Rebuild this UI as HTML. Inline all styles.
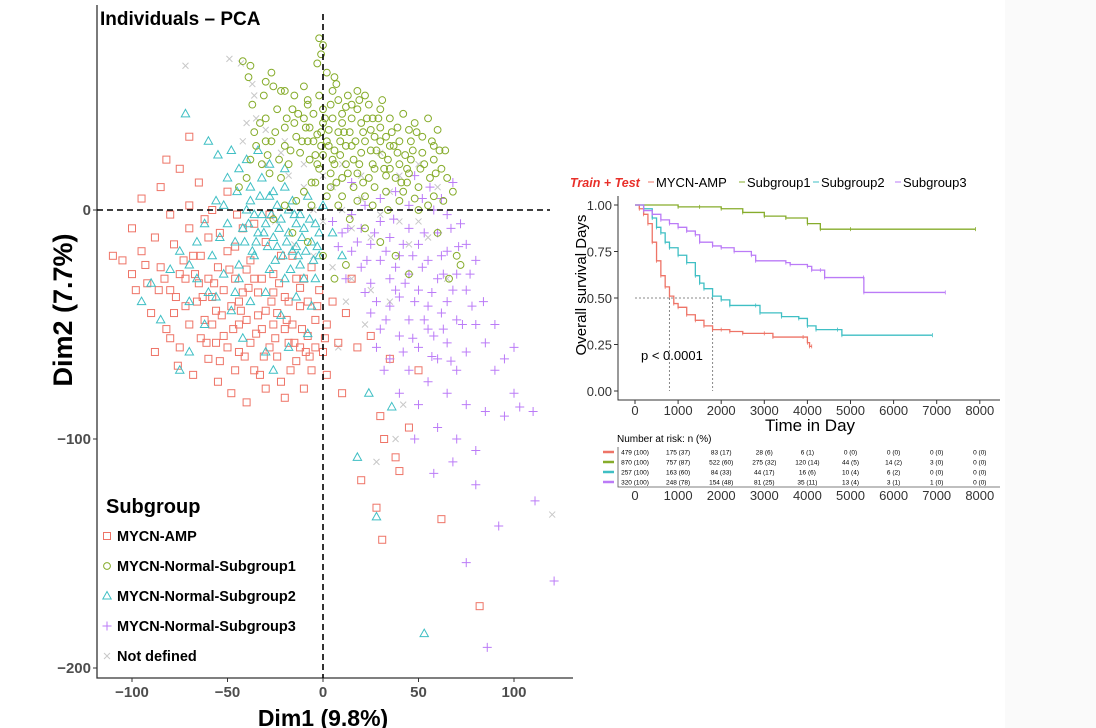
<!DOCTYPE html>
<html><head><meta charset="utf-8"><style>
html,body{margin:0;padding:0;background:#fff;}
body{width:1096px;height:728px;overflow:hidden;position:relative;font-family:"Liberation Sans",sans-serif;}
</style></head><body>
<div style="position:absolute;left:1005px;top:0;width:91px;height:728px;background:#fafafa;"></div>
<svg id="svg" width="1096" height="728" style="position:absolute;left:0;top:0" xmlns="http://www.w3.org/2000/svg"></svg>
<script>
// ---------- PCA data ----------
const pcaXTicks=[-100,-50,0,50,100];
const pcaYTicks=[0,-100,-200];
const groupNames=["MYCN-AMP","MYCN-Normal-Subgroup1","MYCN-Normal-Subgroup2","MYCN-Normal-Subgroup3","Not defined"];
const ptsAmp=[[-105,-22],[-100,-28],[-95,-18],[-92,-32],[-88,-12],[-85,-25],[-80,-35],[-78,-15],[-75,-28],[-72,-42],[-70,-8],[-68,-20],[-65,-32],[-62,-48],[-60,-12],[-58,-38],[-55,-25],[-52,-55],[-50,-18],[-48,-42],[-46,-30],[-44,-62],[-42,-8],[-40,-48],[-38,-22],[-36,-70],[-34,-36],[-32,-52],[-30,-14],[-28,-60],[-26,-28],[-24,-45],[-22,-75],[-20,-38],[-18,-58],[-16,-20],[-14,-66],[-12,-42],[-10,-30],[-8,-55],[-6,-70],[-4,-48],[-2,-35],[0,-62],[2,-50],[5,-40],[8,-58],[12,-45],[15,-30],[-90,-45],[-82,-52],[-75,-60],[-68,-72],[-60,-65],[-55,-75],[-48,-80],[-40,-84],[-30,-78],[-20,-82],[-10,-78],[-95,5],[-85,10],[-75,18],[-65,12],[-58,0],[-50,8],[-45,-2],[-100,-8],[-110,-20],[-80,-2],[-70,2],[-62,-4],[-54,-10],[-46,-16],[-36,-6],[-28,-2],[-64,-56],[-56,-44],[-42,-36],[-34,-46],[-24,-64],[-16,-50],[-8,-40],[2,-72],[10,-80],[18,-60],[25,-55],[30,-90],[32,-100],[38,-108],[45,-95],[20,-118],[28,-130],[31,-144],[40,-114],[62,-135],[82,-173],[50,-70],[35,-65],[-82,22],[-70,32],[-76,-68],[-88,-62],[-50,-60],[-44,-50],[-38,-58],[-32,-30],[-26,-50],[-22,-20],[-18,-40],[-12,-60],[-6,-25],[-4,-60],[-60,-30],[-66,-40],[-72,-30],[-78,-45],[-52,-35],[-40,-26],[-30,-44],[-20,-52],[-14,-30],[-64,-20],[-86,-35],[-56,-58],[-46,-70],
[-98,-35],[-93,-24],[-83,-30],[-77,-38],[-73,-22],[-67,-28],[-63,-38],[-57,-32],[-53,-46],[-49,-26],[-43,-44],[-39,-34],[-35,-54],[-31,-64],[-27,-40],[-23,-32],[-19,-48],[-15,-58],[-11,-52],[-7,-64],[-3,-42],[1,-56],[-61,-58],[-54,-66],[-47,-52],[-41,-64],[-33,-72],[-25,-56],[-17,-70],[-9,-62],[-80,-56],[-70,-50],[-58,-50],[-44,-40],[-36,-30],[-26,-36],[-12,-34]];
const ptsSub1=[[-2,75],[0,72],[-1,68],[-3,64],[2,60],[-42,65],[-38,63],[-39,58],[-30,56],[-27,60],[-22,52],[-26,54],[-20,52],[-31,50],[-15,50],[-8,48],[5,52],[8,48],[12,45],[18,52],[24,46],[30,44],[35,40],[42,42],[48,38],[55,40],[60,35],[58,28],[52,25],[46,22],[40,20],[35,28],[30,30],[25,35],[20,38],[15,40],[10,38],[5,40],[0,44],[-5,42],[-10,40],[-15,38],[-20,36],[-25,34],[-30,30],[-35,28],[-38,22],[-32,20],[-28,16],[-22,14],[-18,20],[-12,25],[-8,30],[-3,33],[2,30],[6,26],[12,28],[16,22],[20,25],[26,20],[32,18],[38,14],[44,12],[50,10],[56,14],[62,18],[68,8],[63,4],[55,2],[48,5],[40,4],[33,8],[27,10],[22,6],[16,10],[10,14],[4,16],[-2,18],[-6,12],[-10,8],[-14,4],[-6,2],[2,6],[8,2],[14,-4],[22,-8],[30,-14],[38,-20],[45,-28],[-20,28],[-14,32],[-4,24],[8,34],[14,34],[22,30],[28,26],[34,22],[40,30],[46,30],[52,32],[58,22],[64,26],[0,38],[-8,46],[4,46],[10,42],[18,44],[26,40],[-24,44],[-16,44],[-30,40],[-36,34],[-40,14],[-44,10],[-16,-10],[-8,-14],[0,-20],[6,-30],[12,-24],[-26,-4],[-20,2],[72,-24],[60,-10],[66,-30],[36,34],[44,18],[30,36],[24,14],[18,16],[12,20],[6,20],[0,24],[-4,12],[70,-20],[3,35],[9,30],[15,28],[21,34],[27,32],[33,15],[39,25],[45,35],[51,18],[-1,28],[-7,36],[13,50],[19,48],[7,55],[31,48],
[1,40],[3,28],[5,22],[7,12],[9,24],[11,34],[13,16],[15,46],[17,30],[19,20],[21,12],[23,40],[25,26],[27,18],[29,40],[31,24],[33,32],[35,18],[37,28],[39,36],[41,12],[43,24],[45,16],[47,26],[49,34],[53,20],[57,30],[59,16],[61,26],[65,14],[-1,34],[-3,20],[-5,30],[-7,22],[-9,36],[-11,30],[-13,42],[-17,26],[-19,40],[-23,22],[-27,30],[-29,24],[-33,38],[-37,46],[4,10],[10,6],[18,4],[26,2],[34,0],[42,8],[50,0],[58,6],[-2,50],[6,58],[22,50],[-10,54]];
const ptsSub2=[[-72,42],[-60,30],[-55,24],[-48,26],[-40,22],[-50,14],[-45,8],[-38,10],[-32,14],[-28,6],[-24,2],[-20,10],[-16,4],[-12,-2],[-8,6],[-4,-6],[0,2],[-36,-2],[-30,-6],[-26,-12],[-22,-4],[-18,-10],[-14,-16],[-10,-8],[-6,-14],[-2,-20],[-42,-8],[-46,-14],[-50,-6],[-54,-12],[-58,-20],[-62,-6],[-66,-14],[-70,-24],[-75,-18],[-80,-26],[-90,-32],[-95,-40],[-85,-48],[-70,-40],[-60,-36],[-52,-28],[-44,-24],[-36,-20],[-28,-26],[-20,-30],[-12,-24],[-4,-30],[-48,-44],[-38,-40],[-30,-36],[-22,-46],[-14,-38],[-6,-42],[-62,-50],[-70,-62],[-75,-70],[-42,-56],[-30,-62],[-18,-60],[-8,-54],[5,-10],[10,-20],[-34,26],[-28,20],[-20,18],[-44,18],[-56,4],[-40,0],[-16,-18],[36,-86],[28,-134],[53,-185],[18,-108],[24,-80],[-26,-70],[-66,-30],[-56,-38],[-46,-36],[-34,-10],[-24,-16],[-10,-30],[-2,-10],[-52,2],[-44,-30],[-38,4],[-32,-2],[-26,8],[-18,0],[-14,-6],
[-39,-6],[-35,-14],[-31,-10],[-27,-2],[-23,-8],[-19,-14],[-15,-2],[-11,-12],[-7,-4],[-3,-16],[-41,-14],[-37,-18],[-29,-16],[-21,-20],[-13,-20],[-5,-22],[-33,6],[-25,-22],[-17,-26],[-9,-18]];
const ptsSub3=[[5,-5],[10,-10],[15,-2],[20,-8],[25,-15],[30,-5],[35,-12],[40,-20],[45,-8],[50,-15],[55,-22],[60,-10],[65,-18],[70,-28],[20,-25],[25,-32],[30,-22],[35,-30],[40,-38],[45,-28],[50,-35],[55,-42],[60,-30],[65,-40],[70,-48],[75,-35],[25,-45],[30,-52],[35,-42],[40,-55],[45,-48],[50,-60],[55,-52],[60,-65],[65,-58],[70,-70],[75,-62],[80,-50],[85,-58],[90,-70],[95,-65],[100,-80],[30,5],[38,8],[45,2],[52,5],[58,0],[65,-2],[72,-6],[48,15],[56,10],[62,5],[68,12],[75,-15],[80,-22],[35,-65],[45,-70],[55,-75],[65,-80],[75,-85],[85,-88],[103,-86],[60,-95],[70,-100],[80,-105],[50,-85],[40,-80],[110,-88],[95,-90],[121,-162],[86,-191],[111,-127],[75,-154],[92,-138],[80,-120],[68,-110],[58,-115],[48,-100],[15,-18],[22,-36],[12,-30],[28,-60],[32,-70],[62,-45],[58,-55],[48,-40],[42,-62],[78,-42],[84,-40],[15,12],[22,2],[90,-50],[100,-60],[42,-15],[52,-25],[38,-25],[62,-20],[68,-35],
[27,-10],[33,-18],[37,-4],[43,-32],[47,-20],[53,-10],[57,-36],[63,-28],[67,-8],[71,-16],[28,-40],[33,-48],[38,-35],[47,-56],[53,-48],[57,-64],[63,-52],[67,-66],[73,-50],[77,-28],[18,-14],[23,-22],[13,-8],[8,-16]];
const ptsNA=[[-72,63],[-49,66],[-43,64],[-37,55],[-36,50],[-40,38],[-35,40],[-42,30],[-30,35],[-22,25],[-18,15],[-10,10],[-5,0],[0,-5],[5,10],[10,0],[15,-8],[20,5],[25,-12],[30,-2],[35,8],[40,-5],[45,-15],[50,-5],[55,-12],[-25,-5],[-15,-15],[-5,-20],[5,-25],[15,-30],[25,-35],[35,-40],[-30,20],[-20,30],[-10,20],[0,15],[10,20],[20,15],[30,25],[40,15],[50,20],[60,10],[12,-40],[22,-50],[8,-60],[42,-85],[38,-100],[28,-110],[120,-133],[65,-30]];

// ---------- KM data ----------
const kmTicks=[0,1000,2000,3000,4000,5000,6000,7000,8000];
const kmYTicks=[0,0.25,0.5,0.75,1];
const kmNames=["MYCN-AMP","Subgroup1","Subgroup2","Subgroup3"];
const kmAmpT=[0,100,200,300,400,500,600,700,800,900,1000,1200,1400,1600,1800,2000,2200,2500,3000,3200,3900,4000,4050,4100];
const kmAmpS=[1,.98,.95,.9,.8,.7,.62,.56,.51,.47,.45,.41,.38,.35,.33,.33,.32,.31,.31,.29,.29,.26,.24,.24];
const kmS1T=[0,1000,1500,2000,2500,3000,3500,4000,4300,5000,7900];
const kmS1S=[1,.99,.99,.98,.96,.94,.93,.9,.87,.87,.87];
const kmS2T=[0,200,400,500,600,700,800,1000,1200,1400,1500,1600,1800,2000,2200,2800,2900,3400,3800,4000,4200,4700,4800,6900];
const kmS2S=[1,.98,.93,.88,.85,.8,.77,.73,.69,.62,.58,.55,.51,.49,.46,.46,.42,.4,.39,.35,.33,.33,.3,.3];
const kmS3T=[0,200,400,600,800,1000,1200,1400,1500,1800,2000,2300,2700,2800,3500,3600,4000,4100,4300,4400,5300,5310,7200];
const kmS3S=[1,.97,.95,.92,.9,.88,.86,.84,.8,.78,.77,.75,.73,.7,.69,.68,.67,.65,.65,.61,.61,.53,.53];
const medians=[800,1800];
const riskRows=[["479 (100)","175 (37)","83 (17)","28 (6)","6 (1)","0 (0)","0 (0)","0 (0)","0 (0)"],
["870 (100)","757 (87)","522 (60)","275 (32)","120 (14)","44 (5)","14 (2)","3 (0)","0 (0)"],
["257 (100)","163 (60)","84 (33)","44 (17)","16 (6)","10 (4)","6 (2)","0 (0)","0 (0)"],
["320 (100)","248 (78)","154 (48)","81 (25)","35 (11)","13 (4)","3 (1)","1 (0)","0 (0)"]];

const cols=["#ee7467","#86ac2b","#3fbfc4","#bb7bf7","#c8c8c8"];
const svg=document.getElementById('svg');
const NS="http://www.w3.org/2000/svg";
function mk(tag,at,parent){const e=document.createElementNS(NS,tag);for(const k in at)e.setAttribute(k,at[k]);(parent||svg).appendChild(e);return e;}
function txt(s,at,parent){const e=mk('text',at,parent);e.textContent=s;return e;}

// PCA axes
const px=v=>323+v*1.91, py=v=>210-v*2.29;
function marker(g,type,x,y,c){
  let e;
  if(type===0) e=mk('rect',{x:x-3.5,y:y-3.5,width:7,height:7,fill:'none',stroke:c,'stroke-width':1},g);
  else if(type===1) e=mk('circle',{cx:x,cy:y,r:3.4,fill:'none',stroke:c,'stroke-width':1},g);
  else if(type===2) e=mk('path',{d:`M${x},${y-4.5}L${x+4.2},${y+3}L${x-4.2},${y+3}Z`,fill:'none',stroke:c,'stroke-width':1},g);
  else if(type===3) e=mk('path',{d:`M${x-4.5},${y}H${x+4.5}M${x},${y-4.5}V${y+4.5}`,stroke:c,'stroke-width':1},g);
  else e=mk('path',{d:`M${x-3},${y-3}L${x+3},${y+3}M${x-3},${y+3}L${x+3},${y-3}`,stroke:c,'stroke-width':1},g);
  return e;
}
const pca=mk('g',{});


const order=[[ptsNA,4],[ptsAmp,0],[ptsSub2,2],[ptsSub3,3],[ptsSub1,1]];
order.forEach(([arr,t])=>{
  const g=mk('g',{},pca);
  
  
  arr.forEach(p=>{const m=marker(g,t,px(p[0]),py(p[1]),cols[t]);
    
    });
});
const ax=mk('path',{d:'M97,5V678H573',fill:'none',stroke:'#333','stroke-width':1.3},pca);


const h0=mk('line',{x1:97,x2:550,y1:py(0),y2:py(0),stroke:'#000','stroke-width':1.6,'stroke-dasharray':'6,4'},pca);


const v0=mk('line',{x1:px(0),x2:px(0),y1:14,y2:678,stroke:'#000','stroke-width':1.6,'stroke-dasharray':'6,4'},pca);


pcaXTicks.forEach(v=>{
  mk('line',{x1:px(v),x2:px(v),y1:678,y2:682,stroke:'#333'},pca);
  const t=txt(String(v).replace('-','−'),{x:px(v),y:697,'text-anchor':'middle','font-size':15,'font-weight':'bold',fill:'#4d4d4d'},pca);
  
  
});
pcaYTicks.forEach(v=>{
  mk('line',{x1:93,x2:97,y1:py(v),y2:py(v),stroke:'#333'},pca);
  const t=txt(String(v).replace('-','−'),{x:91,y:py(v)+5,'text-anchor':'end','font-size':15,'font-weight':'bold',fill:'#4d4d4d'},pca);
  
  
});
let t=txt('Individuals – PCA',{x:100,y:25,'font-size':19,'font-weight':'bold'},pca);


t=txt('Dim2 (7.7%)',{x:0,y:0,transform:'translate(72,310) rotate(-90)','text-anchor':'middle','font-size':27,'font-weight':'bold'},pca);


t=txt('Dim1 (9.8%)',{x:323,y:726,'text-anchor':'middle','font-size':23,'font-weight':'bold'},pca);


t=txt('Subgroup',{x:106,y:513,'font-size':20,'font-weight':'bold'},pca);


groupNames.forEach((n,i)=>{
  const g=mk('g',{},pca);
  
  
  const y=536+i*30;
  marker(g,i,107,y,cols[i]);
  txt(n,{x:117,y:y+5,'font-size':14.5,'font-weight':'bold'},g);
});

// KM plot
const kx=v=>635+v*0.0431, ky=v=>391-v*186;
const km=mk('g',{});


const kax=mk('path',{d:'M618,196V400H1000',fill:'none',stroke:'#333','stroke-width':1},km);


kmYTicks.forEach(v=>{
  mk('line',{x1:614,x2:618,y1:ky(v),y2:ky(v),stroke:'#333'},km);
  const e=txt(v.toFixed(2),{x:612,y:ky(v)+5,'text-anchor':'end','font-size':13,fill:'#333'},km);
  
  
});
kmTicks.forEach(v=>{
  mk('line',{x1:kx(v),x2:kx(v),y1:400,y2:404,stroke:'#333'},km);
  let e=txt(String(v),{x:kx(v),y:415,'text-anchor':'middle','font-size':13,fill:'#333'},km);
  
  
  e=txt(String(v),{x:kx(v),y:500,'text-anchor':'middle','font-size':13,fill:'#333'},km);
  
  
});
medians.forEach(m=>{
  mk('line',{x1:kx(m),x2:kx(m),y1:ky(0.5),y2:ky(0),stroke:'#888','stroke-dasharray':'2,2'},km);
});
mk('line',{x1:kx(0),x2:kx(medians[1]),y1:ky(0.5),y2:ky(0.5),stroke:'#888','stroke-dasharray':'2,2'},km);
const series=[[kmAmpT,kmAmpS],[kmS1T,kmS1S],[kmS2T,kmS2S],[kmS3T,kmS3S]];
series.forEach(([T,S],i)=>{
  let d=`M${kx(T[0])},${ky(S[0])}`;
  for(let k=1;k<T.length;k++){d+=`H${kx(T[k])}V${ky(S[k])}`;}
  const p=mk('path',{d,fill:'none',stroke:cols[i],'stroke-width':1.3},km);
  
  
  for(let k=1;k<T.length;k++){const x=kx(T[k]),y=ky(S[k]);mk('line',{x1:x,x2:x,y1:y-2,y2:y+2,stroke:cols[i],'stroke-width':0.8},km);}
});
t=txt('p < 0.0001',{x:641,y:360,'font-size':13},km);


t=txt('Overall survival Days',{x:0,y:0,transform:'translate(586,285) rotate(-90)','text-anchor':'middle','font-size':15},km);


t=txt('Time in Day',{x:810,y:431,'text-anchor':'middle','font-size':17},km);


t=txt('Train + Test',{x:570,y:187,'font-size':12.5,'font-weight':'bold','font-style':'italic',fill:'#e8302a'},km);


const lx=[653,744,818,900];
kmNames.forEach((n,i)=>{
  const g=mk('g',{},km);
  
  
  mk('line',{x1:lx[i]-5,x2:lx[i]+1,y1:182,y2:182,stroke:cols[i]},g);
  txt(n,{x:lx[i]+3,y:187,'font-size':13},g);
});
t=txt('Number at risk: n (%)',{x:617,y:442,'font-size':10},km);


mk('path',{d:'M618,447V487H1000',fill:'none',stroke:'#555','stroke-width':0.8},km);
riskRows.forEach((row,r)=>{
  const y=452+r*10;
  const sw=mk('line',{x1:603,x2:614,y1:y,y2:y,stroke:cols[r],'stroke-width':2.5},km);
  
  
  row.forEach((c,k)=>{
    const e=txt(c,{x:kx(kmTicks[k]),y:y+2.5,'text-anchor':'middle','font-size':6.5},km);
    
    
  });
});
</script>
</body></html>
